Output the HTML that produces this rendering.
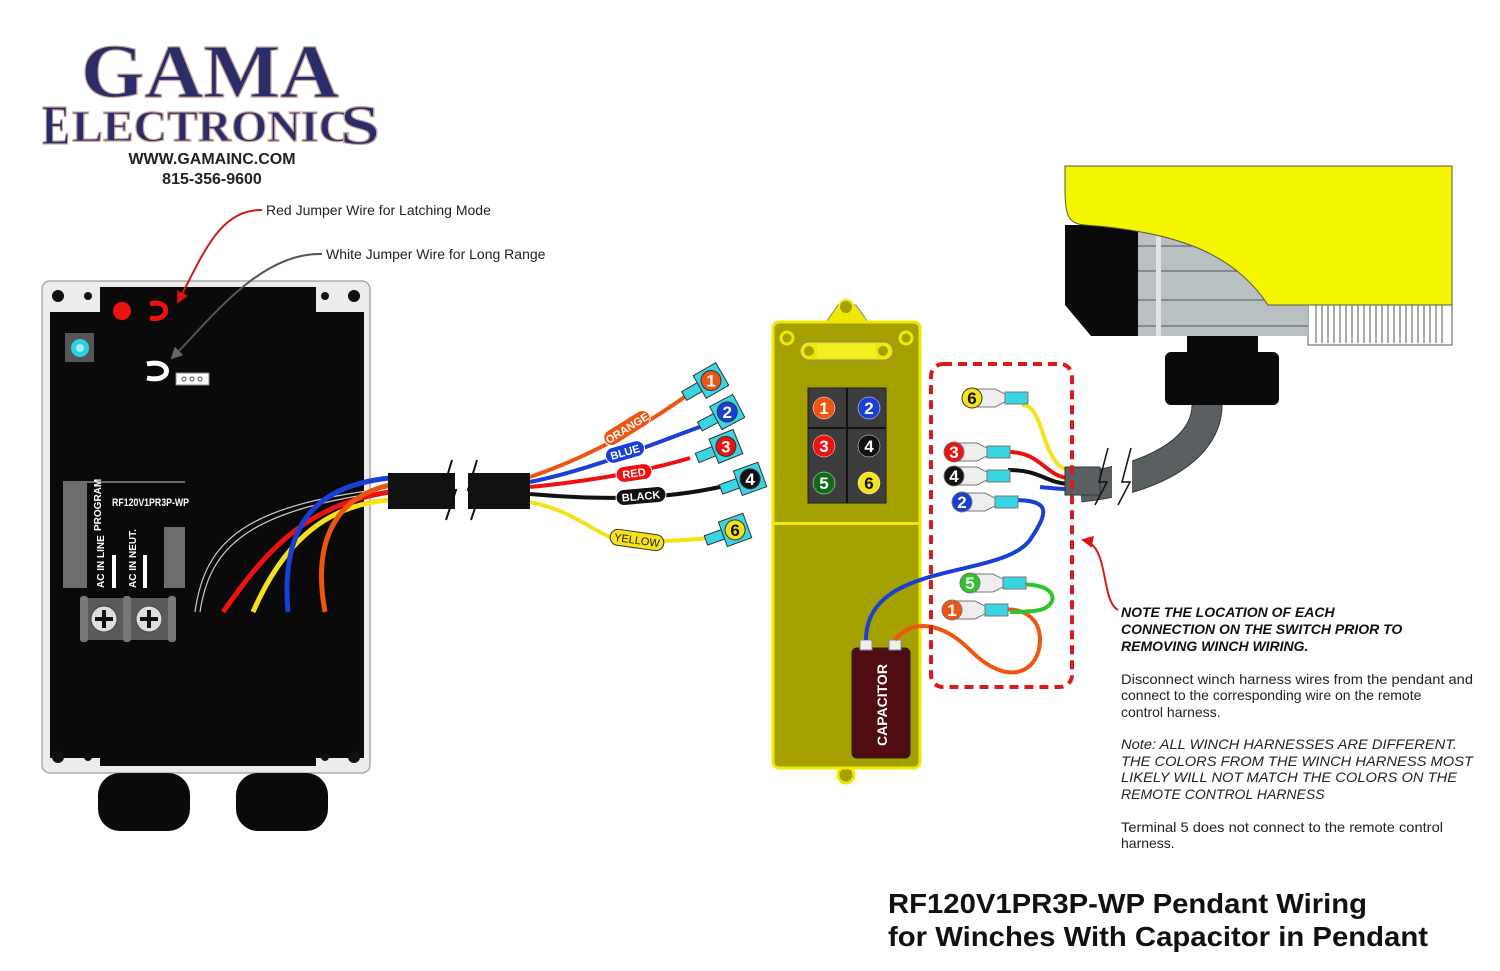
<!DOCTYPE html>
<html><head><meta charset="utf-8"><style>
html,body{margin:0;padding:0;background:#fff;}
svg{display:block;font-family:"Liberation Sans",Arial,sans-serif;}
</style></head><body>
<svg width="1500" height="971" viewBox="0 0 1500 971" xmlns="http://www.w3.org/2000/svg">
<defs>
<marker id="ar" markerWidth="12" markerHeight="12" refX="10" refY="6" orient="auto" markerUnits="userSpaceOnUse"><path d="M0,0 L12,6 L0,12 z" fill="#d11"/></marker>
<marker id="ag" markerWidth="12" markerHeight="12" refX="10" refY="6" orient="auto" markerUnits="userSpaceOnUse"><path d="M0,0 L12,6 L0,12 z" fill="#666"/></marker>
</defs>

<!-- LOGO -->
<g font-family="Liberation Serif,serif" font-weight="bold" fill="#2b2d6b" stroke="#c9a99a" stroke-width="1.2">
<text x="210" y="97" font-size="76" text-anchor="middle" textLength="258" lengthAdjust="spacingAndGlyphs">GAMA</text>
<text x="42" y="144" font-size="56" textLength="28" lengthAdjust="spacingAndGlyphs">E</text>
<text x="72" y="141" font-size="44" textLength="280" lengthAdjust="spacingAndGlyphs">LECTRONIC</text>
<text x="340" y="144" font-size="56" textLength="40" lengthAdjust="spacingAndGlyphs">S</text>
</g>
<text x="212" y="164" font-size="16" font-weight="bold" fill="#222" text-anchor="middle">WWW.GAMAINC.COM</text>
<text x="212" y="184" font-size="16" font-weight="bold" fill="#222" text-anchor="middle">815-356-9600</text>

<text x="266" y="215" font-size="14" fill="#222">Red Jumper Wire for Latching Mode</text>
<text x="326" y="259" font-size="14" fill="#222">White Jumper Wire for Long Range</text>

<!-- LEFT BOX -->
<rect x="42" y="281" width="328" height="492" rx="8" fill="#ececec" stroke="#aaa" stroke-width="1.5"/>
<path d="M100,287 H316 V312 H364 V758 H316 V766 H100 V758 H50 V312 H100 Z" fill="#0a0a0a"/>
<rect x="50" y="312" width="314" height="446" rx="6" fill="#0a0a0a"/>
<g fill="#111"><circle cx="58" cy="296" r="6"/><circle cx="88" cy="296" r="4"/><circle cx="325" cy="296" r="4"/><circle cx="354" cy="296" r="6"/>
<circle cx="58" cy="757" r="6"/><circle cx="88" cy="757" r="4"/><circle cx="325" cy="757" r="4"/><circle cx="354" cy="757" r="6"/></g>
<rect x="98" y="773" width="92" height="58" rx="22" fill="#0a0a0a"/>
<rect x="236" y="773" width="92" height="58" rx="22" fill="#0a0a0a"/>
<circle cx="122" cy="311" r="9" fill="#ee1111"/>
<path d="M150,304 C170,298 172,322 150,318" fill="none" stroke="#ee1111" stroke-width="5"/>
<rect x="65" y="333" width="29" height="29" fill="#555"/>
<circle cx="80" cy="348" r="9" fill="#2ed1e0"/><circle cx="80" cy="348" r="4" fill="#9ef0f5"/>
<path d="M147,364 C173,358 173,384 147,378" fill="none" stroke="#fff" stroke-width="5"/>
<rect x="176" y="373" width="33" height="12" fill="#fff" stroke="#888"/>
<g fill="none" stroke="#555" stroke-width="1"><circle cx="184" cy="379" r="2"/><circle cx="192" cy="379" r="2"/><circle cx="200" cy="379" r="2"/></g>

<!-- annotation arrows (drawn over box) -->
<path d="M262,210 C220,210 205,250 178,302" fill="none" stroke="#cc1a1a" stroke-width="2" marker-end="url(#ar)"/>
<path d="M322,254 C260,252 210,320 172,358" fill="none" stroke="#555" stroke-width="2" marker-end="url(#ag)"/>

<!-- label panel -->
<rect x="63" y="481" width="24" height="107" fill="#6d6d6d"/>
<rect x="87" y="481" width="98" height="2" fill="#6d6d6d"/>
<rect x="164" y="527" width="21" height="61" fill="#6d6d6d"/>
<text x="112" y="506" font-size="11" font-weight="bold" fill="#fff" textLength="77" lengthAdjust="spacingAndGlyphs">RF120V1PR3P-WP</text>
<text transform="translate(101,531) rotate(-90)" font-size="10" font-weight="bold" fill="#fff">PROGRAM</text>
<text transform="translate(104,588) rotate(-90)" font-size="10" font-weight="bold" fill="#fff">AC IN LINE</text>
<text transform="translate(136,588) rotate(-90)" font-size="10" font-weight="bold" fill="#fff">AC IN NEUT.</text>
<rect x="112" y="555" width="4" height="33" fill="#fff"/><rect x="143" y="555" width="4" height="33" fill="#fff"/>
<rect x="80" y="598" width="96" height="42" fill="#5a5a5a"/>
<rect x="80" y="596" width="8" height="46" rx="3" fill="#777"/><rect x="123" y="596" width="8" height="46" rx="3" fill="#777"/><rect x="168" y="596" width="8" height="46" rx="3" fill="#777"/>
<g><circle cx="104" cy="619" r="13" fill="#ddd" stroke="#444"/><path d="M104,610 V628 M95,619 H113" stroke="#111" stroke-width="4"/>
<circle cx="149" cy="619" r="13" fill="#ddd" stroke="#444"/><path d="M149,610 V628 M140,619 H158" stroke="#111" stroke-width="4"/></g>
<path d="M195,612 C205,540 245,505 390,488" fill="none" stroke="#ccc" stroke-width="1.2"/>
<path d="M200,612 C210,545 250,510 390,491" fill="none" stroke="#ccc" stroke-width="1.2"/>
<path d="M223,612 C260,560 300,505 390,492" fill="none" stroke="#ee1111" stroke-width="5"/>
<path d="M253,612 C280,550 320,505 390,500" fill="none" stroke="#f5e21a" stroke-width="5"/>
<path d="M288,612 C280,520 320,485 390,478" fill="none" stroke="#1a3fd6" stroke-width="5"/>
<path d="M325,612 C310,530 345,495 390,485" fill="none" stroke="#ee5511" stroke-width="5"/>

<!-- cable sleeve -->
<rect x="388" y="473" width="67" height="36" fill="#111"/>
<rect x="468" y="473" width="62" height="36" fill="#111"/>
<path d="M452,460 L443,490 L456,490 L446,520" fill="none" stroke="#111" stroke-width="2"/>
<path d="M477,460 L468,490 L481,490 L471,520" fill="none" stroke="#111" stroke-width="2"/>
<path d="M530,477 C580,460 640,430 690,393" fill="none" stroke="#ee5511" stroke-width="4"/>
<path d="M530,482 C590,470 650,445 705,425" fill="none" stroke="#1a3fd6" stroke-width="4"/>
<path d="M530,487 C600,480 650,470 690,458" fill="none" stroke="#ee1111" stroke-width="4"/>
<path d="M530,494 C600,500 660,500 720,487" fill="none" stroke="#111" stroke-width="4"/>
<path d="M530,502 C590,515 600,545 640,542 C680,540 700,540 705,538" fill="none" stroke="#f5e21a" stroke-width="4"/>
<g font-size="11" font-weight="bold" fill="#fff" text-anchor="middle">
<g transform="translate(627,428) rotate(-32)"><rect x="-26" y="-8" width="52" height="16" rx="8" fill="#ee5511" stroke="#fff"/><text y="4">ORANGE</text></g>
<g transform="translate(625,452) rotate(-16)"><rect x="-20" y="-8" width="40" height="16" rx="8" fill="#1a3fd6" stroke="#fff"/><text y="4">BLUE</text></g>
<g transform="translate(634,473) rotate(-8)"><rect x="-18" y="-8" width="36" height="16" rx="8" fill="#ee1111" stroke="#fff"/><text y="4">RED</text></g>
<g transform="translate(641,496) rotate(-5)"><rect x="-25" y="-8" width="50" height="16" rx="8" fill="#111" stroke="#fff"/><text y="4">BLACK</text></g>
<g transform="translate(637,540) rotate(8)"><rect x="-27" y="-8" width="54" height="16" rx="8" fill="#f5e21a" stroke="#333"/><text y="4" fill="#222" font-weight="normal">YELLOW</text></g>
</g>
<!-- left terminals -->
<g stroke="#333" stroke-width="1" font-size="17" font-weight="bold" text-anchor="middle">
<g transform="translate(698,388) rotate(-30)"><rect x="-16" y="-5" width="18" height="10" fill="#39d5e3"/><rect x="2" y="-13" width="26" height="26" fill="#39d5e3"/><circle cx="15" cy="0" r="10" fill="#ee5511"/><text transform="translate(15,0) rotate(30)" y="6" fill="#fff" stroke="none">1</text></g>
<g transform="translate(714,419) rotate(-28)"><rect x="-16" y="-5" width="18" height="10" fill="#39d5e3"/><rect x="2" y="-13" width="26" height="26" fill="#39d5e3"/><circle cx="15" cy="0" r="10" fill="#1a3fd6"/><text transform="translate(15,0) rotate(28)" y="6" fill="#fff" stroke="none">2</text></g>
<g transform="translate(712,452) rotate(-22)"><rect x="-16" y="-5" width="18" height="10" fill="#39d5e3"/><rect x="2" y="-13" width="26" height="26" fill="#39d5e3"/><circle cx="15" cy="0" r="10" fill="#ee1111"/><text transform="translate(15,0) rotate(22)" y="6" fill="#fff" stroke="none">3</text></g>
<g transform="translate(736,484) rotate(-20)"><rect x="-16" y="-5" width="18" height="10" fill="#39d5e3"/><rect x="2" y="-13" width="26" height="26" fill="#39d5e3"/><circle cx="15" cy="0" r="10" fill="#111"/><text transform="translate(15,0) rotate(20)" y="6" fill="#fff" stroke="none">4</text></g>
<g transform="translate(721,535) rotate(-20)"><rect x="-16" y="-5" width="18" height="10" fill="#39d5e3"/><rect x="2" y="-13" width="26" height="26" fill="#39d5e3"/><circle cx="15" cy="0" r="10" fill="#f5e21a"/><text transform="translate(15,0) rotate(20)" y="6" fill="#111" stroke="none">6</text></g>
</g>

<!-- PENDANT -->
<path d="M826,322 L838,305 H856 L868,322 Z" fill="#f0e800" stroke="#888"/>
<circle cx="846" cy="307" r="7" fill="#a3a000" stroke="#f0e800" stroke-width="2"/>
<circle cx="846" cy="775" r="8" fill="#a3a000" stroke="#f0e800" stroke-width="3"/>
<rect x="773" y="322" width="147" height="446" rx="6" fill="#a3a000" stroke="#f0e800" stroke-width="3"/>
<rect x="774" y="522" width="145" height="3" fill="#f0e800"/>
<circle cx="787" cy="338" r="6" fill="#a3a000" stroke="#f0e800" stroke-width="3"/>
<circle cx="906" cy="338" r="6" fill="#a3a000" stroke="#f0e800" stroke-width="3"/>
<rect x="800" y="342" width="93" height="18" rx="9" fill="#f0e800" stroke="#888"/>
<rect x="817" y="344" width="59" height="14" fill="#f5ee20"/>
<circle cx="809" cy="351" r="5" fill="#a3a000"/><circle cx="883" cy="351" r="5" fill="#a3a000"/>
<rect x="808" y="388" width="78" height="115" fill="#3d3d3d" stroke="#222"/>
<path d="M847,388 V503 M808,428 H886" stroke="#111" stroke-width="2"/>
<g stroke="#fff" stroke-width="0.5"><circle cx="824" cy="408" r="11" fill="#ee5511"/><circle cx="869" cy="408" r="11" fill="#1a3fd6"/><circle cx="824" cy="446" r="11" fill="#ee1111"/><circle cx="869" cy="446" r="11" fill="#111"/><circle cx="824" cy="483" r="11" fill="#0e6b1a"/><circle cx="869" cy="483" r="11" fill="#f5e21a"/></g>
<g font-size="17" font-weight="bold" fill="#fff" text-anchor="middle"><text x="824" y="414">1</text><text x="869" y="414">2</text><text x="824" y="452">3</text><text x="869" y="452">4</text><text x="824" y="489">5</text><text x="869" y="489" fill="#111">6</text></g>
<rect x="852" y="648" width="58" height="110" rx="5" fill="#4f0d12" stroke="#222"/>
<rect x="860" y="640" width="12" height="10" fill="#eee" stroke="#888"/><rect x="889" y="640" width="12" height="10" fill="#eee" stroke="#888"/>
<text transform="translate(887,746) rotate(-90)" font-size="14" font-weight="bold" fill="#fff">CAPACITOR</text>

<!-- right wires -->
<path d="M866,640 C866,560 1000,580 1030,540 C1050,510 1050,500 1012,500" fill="none" stroke="#1a3fd6" stroke-width="4"/>
<path d="M1040,487 C1050,488 1060,489 1067,489" fill="none" stroke="#1a3fd6" stroke-width="4"/>
<path d="M895,640 C910,620 940,620 970,650 C1010,690 1040,670 1040,640 C1040,610 1010,608 1005,610" fill="none" stroke="#ee5511" stroke-width="4"/>
<path d="M1010,585 C1060,580 1060,605 1040,610 C1030,612 1020,612 1010,612" fill="none" stroke="#2ec42e" stroke-width="4"/>
<path d="M1022,405 C1045,405 1040,460 1067,470" fill="none" stroke="#f5e21a" stroke-width="4"/>
<path d="M1008,452 C1040,452 1045,475 1067,478" fill="none" stroke="#ee1111" stroke-width="4"/>
<path d="M1008,470 C1040,470 1045,482 1067,484" fill="none" stroke="#111" stroke-width="4"/>
<g stroke="#777" stroke-width="1">
<g transform="translate(970,398)"><path d="M0,-9 H25 L35,-4 V4 L25,9 H0 Z" fill="#eee"/><rect x="35" y="-6" width="23" height="12" fill="#39d5e3"/><circle cx="2" cy="0" r="10" fill="#f5e21a" stroke="#333"/></g>
<g transform="translate(952,452)"><path d="M0,-9 H25 L35,-4 V4 L25,9 H0 Z" fill="#eee"/><rect x="35" y="-6" width="23" height="12" fill="#39d5e3"/><circle cx="2" cy="0" r="10" fill="#ee1111"/></g>
<g transform="translate(952,476)"><path d="M0,-9 H25 L35,-4 V4 L25,9 H0 Z" fill="#eee"/><rect x="35" y="-6" width="23" height="12" fill="#39d5e3"/><circle cx="2" cy="0" r="10" fill="#111"/></g>
<g transform="translate(960,502)"><path d="M0,-9 H25 L35,-4 V4 L25,9 H0 Z" fill="#eee"/><rect x="35" y="-6" width="23" height="12" fill="#39d5e3"/><circle cx="2" cy="0" r="10" fill="#1a3fd6"/></g>
<g transform="translate(968,583)"><path d="M0,-9 H25 L35,-4 V4 L25,9 H0 Z" fill="#eee"/><rect x="35" y="-6" width="23" height="12" fill="#39d5e3"/><circle cx="2" cy="0" r="10" fill="#2ec42e"/></g>
<g transform="translate(950,610)"><path d="M0,-9 H25 L35,-4 V4 L25,9 H0 Z" fill="#eee"/><rect x="35" y="-6" width="23" height="12" fill="#39d5e3"/><circle cx="2" cy="0" r="10" fill="#ee5511"/></g>
</g>
<g font-size="17" font-weight="bold" fill="#fff" text-anchor="middle"><text x="972" y="404" fill="#111">6</text><text x="954" y="458">3</text><text x="954" y="482">4</text><text x="962" y="508">2</text><text x="970" y="589">5</text><text x="952" y="616">1</text></g>

<!-- winch cable -->
<path d="M1207,405 C1207,450 1150,480 1080,487" fill="none" stroke="#333" stroke-width="31"/>
<path d="M1207,405 C1207,450 1150,480 1080,487" fill="none" stroke="#5a6062" stroke-width="29"/>
<rect x="1065" y="467" width="35" height="28" fill="#5a6062" stroke="#333"/>
<rect x="1112" y="455" width="20" height="50" fill="#fff"/>
<path d="M1108,448 L1099,482 L1107,482 L1095,505" fill="none" stroke="#111" stroke-width="1.5"/>
<path d="M1131,448 L1122,482 L1130,482 L1118,505" fill="none" stroke="#111" stroke-width="1.5"/>

<rect x="931" y="364" width="141" height="323" rx="12" fill="none" stroke="#dd1a1a" stroke-width="4" stroke-dasharray="9,6"/>
<path d="M1118,610 C1100,600 1110,545 1083,540" fill="none" stroke="#dd1a1a" stroke-width="2" marker-end="url(#ar)"/>

<!-- winch -->
<rect x="1187" y="335" width="71" height="22" fill="#0a0a0a"/>
<rect x="1165" y="352" width="114" height="53" rx="6" fill="#0a0a0a"/>
<rect x="1308" y="305" width="144" height="40" fill="#fff" stroke="#555"/>
<g stroke="#555" stroke-width="1">
<path d="M1316,305V343 M1322,305V343 M1328,305V343 M1334,305V343 M1340,305V343 M1346,305V343 M1352,305V343 M1358,305V343 M1364,305V343 M1370,305V343 M1376,305V343 M1382,305V343 M1388,305V343 M1394,305V343 M1400,305V343 M1406,305V343 M1412,305V343 M1418,305V343 M1424,305V343 M1430,305V343 M1436,305V343 M1442,305V343"/></g>
<path d="M1065,225 H1138 V336 H1091 L1065,305 Z" fill="#0a0a0a"/>
<rect x="1138" y="232" width="170" height="104" fill="#b9c0c2"/>
<g stroke="#555" stroke-width="1"><path d="M1138,246H1308 M1138,271H1308 M1138,300H1308 M1138,326H1308"/></g>
<rect x="1156" y="232" width="5" height="104" fill="#dfe3e4"/>
<path d="M1065,166 H1452 V305 H1268 C1235,255 1180,232 1085,225 C1068,224 1065,215 1065,190 Z" fill="#f5f500" stroke="#555"/>

<!-- right text -->
<g font-size="14" font-weight="bold" font-style="italic" fill="#111">
<text x="1121" y="617">NOTE THE LOCATION OF EACH</text>
<text x="1121" y="634">CONNECTION ON THE SWITCH PRIOR TO</text>
<text x="1121" y="651">REMOVING WINCH WIRING.</text>
</g>
<g font-size="14" fill="#222">
<text x="1121" y="684" textLength="352" lengthAdjust="spacingAndGlyphs">Disconnect winch harness wires from the pendant and</text>
<text x="1121" y="700">connect to the corresponding wire on the remote</text>
<text x="1121" y="717">control harness.</text>
<g font-style="italic"><text x="1121" y="749" textLength="336" lengthAdjust="spacingAndGlyphs">Note: ALL WINCH HARNESSES ARE DIFFERENT.</text>
<text x="1121" y="766" textLength="352" lengthAdjust="spacingAndGlyphs">THE COLORS FROM THE WINCH HARNESS MOST</text>
<text x="1121" y="782" textLength="336" lengthAdjust="spacingAndGlyphs">LIKELY WILL NOT MATCH THE COLORS ON THE</text>
<text x="1121" y="799">REMOTE CONTROL HARNESS</text></g>
<text x="1121" y="832" textLength="322" lengthAdjust="spacingAndGlyphs">Terminal 5 does not connect to the remote control</text>
<text x="1121" y="848">harness.</text>
</g>
<g font-size="28" font-weight="bold" fill="#111">
<text x="888" y="913" textLength="479" lengthAdjust="spacingAndGlyphs">RF120V1PR3P-WP Pendant Wiring</text>
<text x="888" y="946" textLength="540" lengthAdjust="spacingAndGlyphs">for Winches With Capacitor in Pendant</text>
</g>
</svg>
</body></html>
